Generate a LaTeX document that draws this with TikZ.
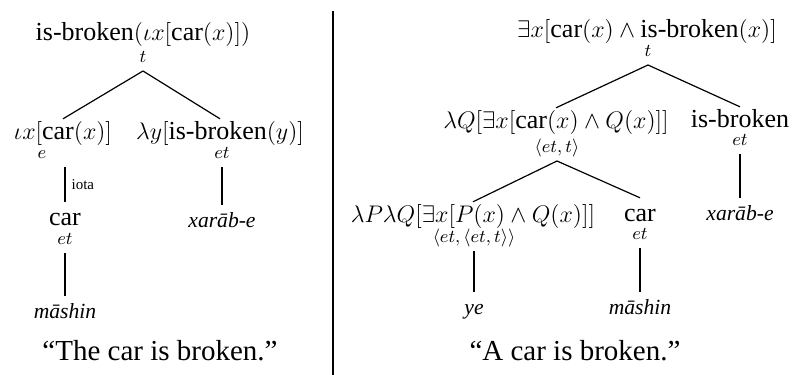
\documentclass[tikz,border=0pt]{standalone}
\usepackage{amsmath}
\usepackage[no-math]{fontspec}
\setmainfont{Liberation Serif}
\usetikzlibrary{positioning}
\newcommand{\pr}[1]{\text{#1}}

\begin{document}
\begin{tikzpicture}[
    x=0.5pt, y=-0.5pt,
    sem/.style={anchor=base, inner sep=0.5pt, text height=9.4pt,
                text depth=3.4pt, font=\fontsize{13}{15}\selectfont},
    typ/.style={anchor=base, inner sep=2pt, text height=6.8pt,
                text depth=2.3pt, font=\fontsize{9}{10}\selectfont},
    word/.style={anchor=base, inner sep=2pt, text height=8.6pt,
                 text depth=2.6pt, font=\fontsize{10.8}{13}\selectfont\itshape},
    caption/.style={anchor=base, font=\fontsize{14.5}{17}\selectfont},
    rel/.style={font=\fontsize{7.5}{9}\selectfont, inner sep=0pt},
    branch/.style={line width=0.6pt}
  ]
  \useasboundingbox (0,0) rectangle (794,375);

  % "The car is broken."
  \node[sem] (lroot) at (143,40) {$\pr{is-broken}(\iota x[\pr{car}(x)])$};
  \node[typ] (lrootT) at (143,62) {$t$};
  \node[sem] (liota) at (63,139) {$\iota x[\pr{car}(x)]$};
  \node[typ] (liotaT) at (42,158) {$e$};
  \node[sem] (lpred) at (220,139) {$\lambda y[\pr{is-broken}(y)]$};
  \node[typ] (lpredT) at (222,158) {$et$};
  \node[sem, inner sep=2pt] (lcar) at (65,225) {car};
  \node[typ] (lcarT) at (65,244) {$et$};
  \node[word] (lmashin) at (65,318) {māshin};
  \node[word] (lxarab) at (222,227) {xarāb-e};
  \node[caption] (lcap) at (160,360) {``The car is broken.''};

  \draw[branch] (lrootT.south) -- (liota.north);
  \draw[branch] (lrootT.south) -- (lpred.north);
  \draw[branch] (lcar.north |- liotaT.south) -- node[rel, right=3pt]{iota} (lcar.north);
  \draw[branch] (lcarT.south) -- (lmashin.north);
  \draw[branch] (lxarab.north |- lpredT.south) -- (lxarab.north);

  % divider
  \draw[branch] (333,11) -- (333,375);

  % "A car is broken."
  \node[sem] (rroot) at (647,38) {$\exists x[\pr{car}(x) \wedge \pr{is-broken}(x)]$};
  \node[typ] (rrootT) at (648,56) {$t$};
  \node[sem] (rgq) at (556,128) {$\lambda Q[\exists x[\pr{car}(x) \wedge Q(x)]]$};
  \node[typ] (rgqT) at (557,152) {$\langle et,t\rangle$};
  \node[sem] (rpred) at (740,127) {is-broken};
  \node[typ] (rpredT) at (740,145) {$et$};
  \node[sem] (rdet) at (473,222) {$\lambda P\lambda Q[\exists x[P(x) \wedge Q(x)]]$};
  \node[typ] (rdetT) at (474,242) {$\langle et,\langle et,t\rangle\rangle$};
  \node[sem, inner sep=2pt] (rcar) at (640,221) {car};
  \node[typ] (rcarT) at (640,239) {$et$};
  \node[word] (rye) at (474,314) {ye};
  \node[word] (rmashin) at (640,314) {māshin};
  \node[word] (rxarab) at (740,220) {xarāb-e};
  \node[caption] (rcap) at (575,360) {``A car is broken.''};

  \draw[branch] (rrootT.south) -- (rgq.north);
  \draw[branch] (rrootT.south) -- (rpred.north);
  \draw[branch] (rgqT.south) -- (rdet.north);
  \draw[branch] (rgqT.south) -- (rcar.north);
  \draw[branch] (rdetT.south) -- (rye.north);
  \draw[branch] (rcarT.south) -- (rmashin.north);
  \draw[branch] (rpredT.south) -- (rxarab.north);
\end{tikzpicture}
\end{document}
